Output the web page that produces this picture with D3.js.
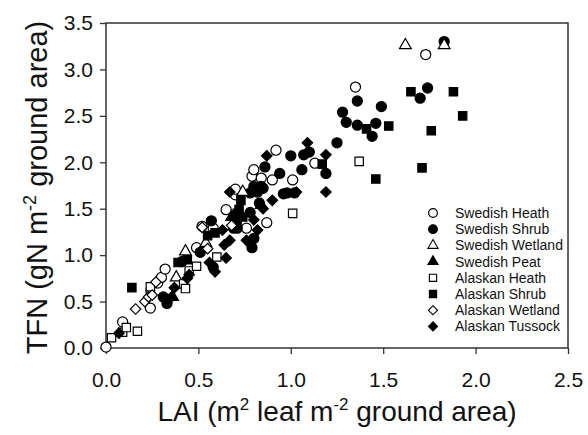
<!DOCTYPE html>
<html>
<head>
<meta charset="utf-8">
<script src="https://cdn.jsdelivr.net/npm/d3@7"></script>
<style>
  body { margin: 0; background: #fff; }
  text { font-family: "Liberation Sans", Arial, sans-serif; fill: #111; }
</style>
</head>
<body>
<div id="chart"></div>
<script>
// series: [LAI, TFN] pairs
swedishHeath = [[0.00,0.01],[0.09,0.28],[0.24,0.43],[0.28,0.70],[0.30,0.76],[0.32,0.85],[0.49,1.08],
  [0.58,1.29],[0.52,1.31],[0.65,1.49],[0.70,1.65],[0.70,1.71],[0.76,1.29],[0.79,1.85],[0.80,1.92],
  [0.84,1.83],[0.90,1.81],[0.87,1.35],[0.92,2.13],[1.01,1.81],[1.13,1.99],[1.35,2.81],[1.73,3.16]]
swedishShrub = [[0.31,0.55],[0.33,0.48],[0.41,0.93],[0.51,1.03],[0.54,1.09],[0.57,1.37],[0.58,0.87],
  [0.69,1.29],[0.71,1.29],[0.78,1.46],[0.78,1.67],[0.80,1.74],[0.82,1.68],[0.84,1.74],[0.85,1.72],
  [0.86,1.95],[0.94,1.88],[0.96,1.66],[0.98,1.67],[1.00,2.07],[1.02,1.67],[1.06,1.92],[1.07,2.08],
  [1.10,2.11],[1.19,1.88],[1.25,2.21],[1.28,2.54],[1.30,2.43],[1.36,2.40],[1.36,2.66],[1.44,2.28],
  [1.46,2.42],[1.49,2.60],[1.70,2.69],[1.74,2.80],[1.83,3.30],[0.80,1.18],[0.79,1.08],[0.83,1.56]]
swedishWetland = [[0.38,0.76],[0.43,1.04],[0.54,1.13],[0.74,1.68],[1.62,3.26],[1.83,3.26]]
swedishPeat = [[0.36,0.55],[0.68,1.41],[0.84,1.54]]
alaskanHeath = [[0.03,0.11],[0.09,0.17],[0.11,0.22],[0.17,0.18],[0.24,0.60],[0.24,0.66],[0.42,0.69],
  [0.43,0.64],[0.45,0.83],[0.49,0.88],[0.60,0.98],[1.01,1.45],[1.37,2.01]]
alaskanShrub = [[0.14,0.65],[0.39,0.92],[0.44,0.95],[0.55,1.21],[0.59,1.24],[0.71,1.45],[0.72,1.49],
  [0.73,1.59],[0.71,1.38],[0.74,1.41],[1.17,1.98],[1.41,2.36],[1.46,1.82],[1.53,2.39],[1.65,2.76],
  [1.71,1.94],[1.76,2.34],[1.88,2.76],[1.93,2.50]]
alaskanWetland = [[0.16,0.42],[0.21,0.50],[0.23,0.55],[0.25,0.57],[0.27,0.71],[0.52,1.30],[0.55,1.07],[0.68,1.32]]
alaskanTussock = [[0.07,0.16],[0.35,0.54],[0.37,0.65],[0.44,0.75],[0.45,0.79],[0.56,0.92],[0.59,0.82],
  [0.64,1.11],[0.65,0.97],[0.67,1.16],[0.63,1.27],[0.67,1.68],[0.82,1.27],[0.85,1.50],[0.90,1.59],
  [0.87,2.07],[1.03,1.68],[1.09,2.21],[1.19,2.08],[1.19,1.68],[0.76,1.16],[0.80,1.38]]

seriesNames = ["Swedish Heath","Swedish Shrub","Swedish Wetland","Swedish Peat",
  "Alaskan Heath","Alaskan Shrub","Alaskan Wetland","Alaskan Tussock"]
seriesData = [swedishHeath, swedishShrub, swedishWetland, swedishPeat,
  alaskanHeath, alaskanShrub, alaskanWetland, alaskanTussock]
xTicks = [0, 0.5, 1.0, 1.5, 2.0, 2.5]
yTicks = [0, 0.5, 1.0, 1.5, 2.0, 2.5, 3.0, 3.5]

// marker style per series
shapes = [d3.symbolCircle, d3.symbolCircle, d3.symbolTriangle, d3.symbolTriangle,
  d3.symbolSquare, d3.symbolSquare, d3.symbolSquare, d3.symbolSquare]
filled = [false, true, false, true, false, true, false, true]
rotated = [false, false, false, false, false, false, true, true]
sizes = [80, 80, 60, 60, 70, 70, 55, 55]

margin = {top: 23, right: 20, bottom: 87, left: 106},
  width = 588 - margin.left - margin.right,
  height = 435 - margin.top - margin.bottom;

svg = d3.select("#chart")
  .append("svg")
  .attr("width", 588)
  .attr("height", 435)
  .append("g")
  .attr("transform", `translate(${margin.left}, ${margin.top})`);

x = d3.scaleLinear().domain([0, 2.5]).range([0, width])
y = d3.scaleLinear().domain([0, 3.5]).range([height, 0])

// axes with outward ticks
xAxis = svg.append("g")
  .attr("transform", `translate(0, ${height})`)
  .call(d3.axisBottom(x).tickValues(xTicks).tickFormat(d3.format(".1f")).tickSize(6).tickPadding(18))
yAxis = svg.append("g")
  .call(d3.axisLeft(y).tickValues(yTicks).tickFormat(d3.format(".1f")).tickSize(6).tickPadding(7))
svg.selectAll(".tick text").style("font-size", "21px").style("font-family", "Liberation Sans, Arial, sans-serif").attr("fill", "#111")
svg.selectAll(".tick line").attr("stroke", "#333").attr("stroke-width", 1.3)
svg.selectAll(".domain").remove()

// frame
svg.append("rect")
  .attr("width", width).attr("height", height)
  .attr("fill", "none").attr("stroke", "#333").attr("stroke-width", 1.5)

// points
seriesData.forEach(function(data, i) {
  sym = d3.symbol().type(shapes[i]).size(sizes[i])
  svg.append("g").selectAll("path")
    .data(data)
    .join("path")
    .attr("d", sym)
    .attr("transform", d => `translate(${x(d[0])}, ${y(d[1])})` + (rotated[i] ? " rotate(45)" : ""))
    .attr("fill", filled[i] ? "#000" : "#fff")
    .attr("stroke", "#000")
    .attr("stroke-width", 1.2)
})

// legend
legend = svg.append("g").attr("transform", `translate(${433 - margin.left}, ${213 - margin.top})`)
seriesNames.forEach(function(name, i) {
  row = legend.append("g").attr("transform", `translate(0, ${i * 16.2})`)
  row.append("path")
    .attr("d", d3.symbol().type(shapes[i]).size(sizes[i] * 0.75))
    .attr("transform", rotated[i] ? "rotate(45)" : null)
    .attr("fill", filled[i] ? "#000" : "#fff")
    .attr("stroke", "#000")
    .attr("stroke-width", 1.1)
  row.append("text")
    .attr("x", 22).attr("y", 5)
    .style("font-size", "14px")
    .text(name)
})

// axis titles
xt = svg.append("text")
  .attr("x", width / 2).attr("y", 421 - margin.top)
  .attr("text-anchor", "middle")
  .style("font-size", "28px")
xt.append("tspan").text("LAI (m")
xt.append("tspan").attr("dy", -11).style("font-size", "17px").text("2")
xt.append("tspan").attr("dy", 11).text(" leaf m")
xt.append("tspan").attr("dy", -11).style("font-size", "17px").text("-2")
xt.append("tspan").attr("dy", 11).text(" ground area)")

yt = svg.append("text")
  .attr("transform", `translate(${47 - margin.left}, ${height / 2 + 2}) rotate(-90)`)
  .attr("text-anchor", "middle")
  .style("font-size", "29px")
yt.append("tspan").text("TFN (gN m")
yt.append("tspan").attr("dy", -11).style("font-size", "18px").text("-2")
yt.append("tspan").attr("dy", 11).text(" ground area)")
</script>
</body>
</html>
